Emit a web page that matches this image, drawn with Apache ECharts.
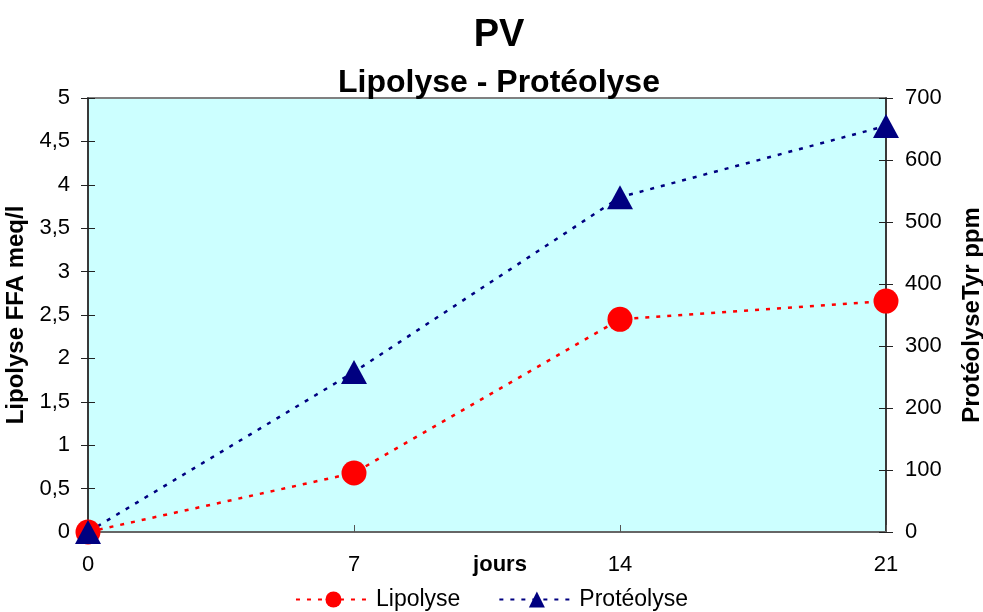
<!DOCTYPE html>
<html><head><meta charset="utf-8">
<script src="https://cdn.jsdelivr.net/npm/echarts@6/dist/echarts.min.js"></script>
<style>html,body{margin:0;padding:0;background:#fff}#c{width:983px;height:612px}</style>
</head><body><div id="c"></div>
<script>
const days = [0, 7, 14, 21];
const lipolyse = [0, 0.68, 2.45, 2.66];
const proteolyse = [0, 258, 540, 655];
const xTicks = [0, 7, 14, 21];

const F = 'Liberation Sans, Arial, sans-serif';
const chart = echarts.init(document.getElementById('c'));
const commaFmt = v => String(v).replace('.', ',');
chart.setOption({
  backgroundColor: '#fff',
  animation: false,
  title: [
    {text: 'PV', left: 494, top: 12, textAlign: 'center', textStyle: {fontFamily: F, fontSize: 38, fontWeight: 'bold', color: '#000'}},
    {text: 'Lipolyse - Protéolyse', left: 494, top: 62, textAlign: 'center', textStyle: {fontFamily: F, fontSize: 32, fontWeight: 'bold', color: '#000'}}
  ],
  grid: {left: 88, right: 97, top: 98, bottom: 80, show: true, backgroundColor: '#ccffff', borderWidth: 2, borderColor: '#808080', outerBoundsMode: 'none', containLabel: false},
  legend: {
    bottom: -4, left: 'center', itemWidth: 75, itemHeight: 20, itemGap: 38,
    textStyle: {fontFamily: F, fontSize: 23, color: '#000'},
    data: ['Lipolyse', 'Protéolyse']
  },
  xAxis: {
    type: 'value', min: 0, max: 21, interval: 7,
    name: 'jours', nameLocation: 'middle', nameGap: 22, nameMoveOverlap: false,
    nameTextStyle: {fontFamily: F, fontSize: 22, fontWeight: 'bold', color: '#000', padding: [0, 0, 0, 26], verticalAlign: 'top'},
    axisLine: {show: true, lineStyle: {color: '#666', width: 2}},
    axisTick: {show: true, inside: true, length: 7, lineStyle: {color: '#555'}},
    axisLabel: {fontFamily: F, fontSize: 22, color: '#000', margin: 22},
    splitLine: {show: false}
  },
  yAxis: [
    {
      type: 'value', min: 0, max: 5, interval: 0.5, position: 'left',
      name: 'Lipolyse FFA meq/l', nameLocation: 'middle', nameGap: 60, nameRotate: 90, nameMoveOverlap: false,
      nameTextStyle: {fontFamily: F, fontSize: 24, fontWeight: 'bold', color: '#000'},
      axisLine: {show: true, lineStyle: {color: '#222', width: 1.5}},
      axisTick: {show: true, length: 7, lineStyle: {color: '#222'}},
      axisLabel: {fontFamily: F, fontSize: 22, color: '#000', margin: 18, formatter: commaFmt},
      splitLine: {show: false}
    },
    {
      type: 'value', min: 0, max: 700, interval: 100, position: 'right',
      name: 'ProtéolyseTyr ppm', nameLocation: 'middle', nameGap: 74, nameRotate: 90, nameMoveOverlap: false,
      nameTextStyle: {fontFamily: F, fontSize: 24, fontWeight: 'bold', color: '#000'},
      axisLine: {show: true, lineStyle: {color: '#222', width: 1.5}},
      axisTick: {show: true, length: 7, lineStyle: {color: '#222'}},
      axisLabel: {fontFamily: F, fontSize: 22, color: '#000', margin: 19},
      splitLine: {show: false}
    },
    {
      type: 'value', min: 0, max: 5, interval: 0.5, position: 'left',
      axisLine: {show: false}, axisLabel: {show: false},
      axisTick: {show: true, inside: true, length: 7, lineStyle: {color: '#222'}},
      splitLine: {show: false}
    },
    {
      type: 'value', min: 0, max: 700, interval: 100, position: 'right',
      axisLine: {show: false}, axisLabel: {show: false},
      axisTick: {show: true, inside: true, length: 7, lineStyle: {color: '#222'}},
      splitLine: {show: false}
    }
  ],
  series: [
    {
      name: 'Lipolyse', type: 'line', yAxisIndex: 0,
      data: days.map((d, i) => [d, lipolyse[i]]),
      symbol: 'circle', symbolSize: 25,
      itemStyle: {color: '#ff0000'},
      lineStyle: {color: '#ff0000', width: 2.5, type: [4, 7]}
    },
    {
      name: 'Protéolyse', type: 'line', yAxisIndex: 1,
      data: days.map((d, i) => [d, proteolyse[i]]),
      symbol: 'triangle', symbolSize: [26, 24],
      itemStyle: {color: '#000080'},
      lineStyle: {color: '#000080', width: 2.5, type: [4, 7]}
    }
  ]
});
</script></body></html>
